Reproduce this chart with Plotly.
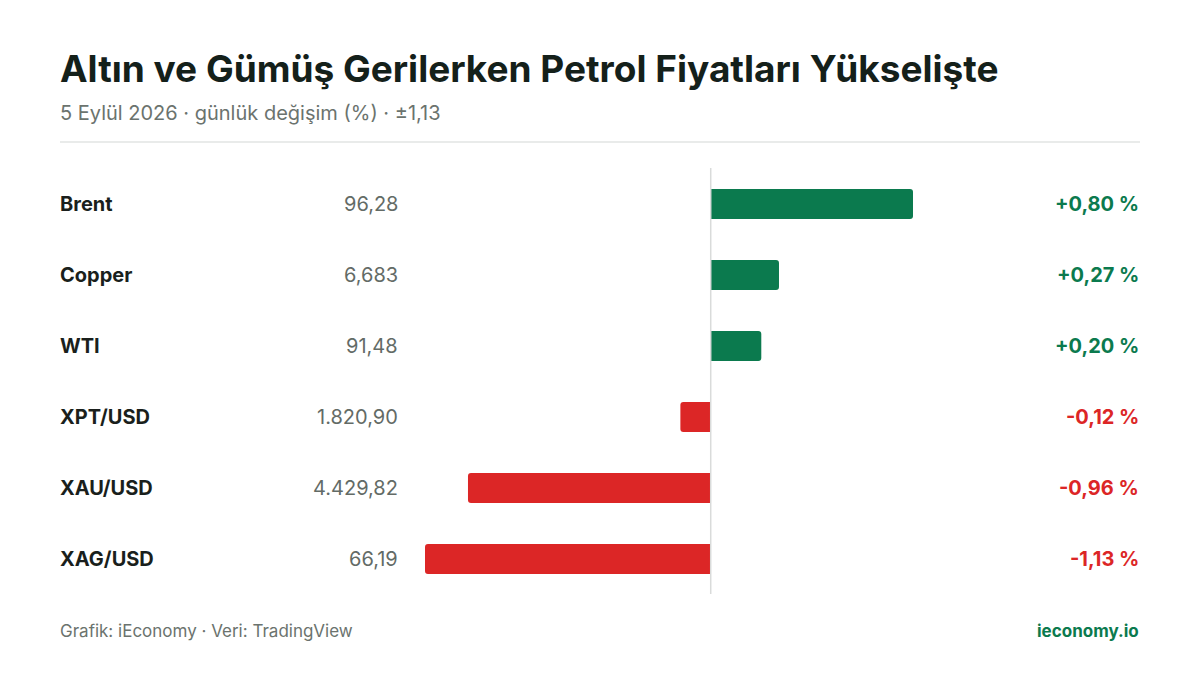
import plotly.graph_objects as go

names = ["Brent", "Copper", "WTI", "XPT/USD", "XAU/USD", "XAG/USD"]
prices = ["96,28", "6,683", "91,48", "1.820,90", "4.429,82", "66,19"]
changes = [0.80, 0.27, 0.20, -0.12, -0.96, -1.13]
change_labels = ["+0,80 %", "+0,27 %", "+0,20 %", "-0,12 %", "-0,96 %", "-1,13 %"]

GREEN = "#0b7a4e"
RED = "#dc2626"
W, H = 1200, 675
OFF = 8  # page body margin


def px(x):
    return (x - OFF) / W


def py(y):
    return 1 - (y - OFF) / H


colors = [GREEN if c >= 0 else RED for c in changes]

fig = go.Figure(go.Bar(
    x=changes, y=names, orientation="h",
    marker=dict(color=colors, line=dict(width=0)),
    width=0.42, hoverinfo="skip",
))

ann = []
for n, p, c, lab, col in zip(names, prices, changes, change_labels, colors):
    ann.append(dict(x=px(58), xref="paper", y=n, yref="y", text="<b>" + n + "</b>",
                    xanchor="left", showarrow=False, font=dict(size=20, color="#1a1f1c")))
    ann.append(dict(x=px(400), xref="paper", y=n, yref="y", text=p,
                    xanchor="right", showarrow=False, font=dict(size=20, color="#636b66")))
    ann.append(dict(x=px(1141), xref="paper", y=n, yref="y", text="<b>" + lab + "</b>",
                    xanchor="right", showarrow=False, font=dict(size=20, color=col)))

ann += [
    dict(x=px(58), y=py(68), xref="paper", yref="paper", xanchor="left", yanchor="middle",
         text="<b>Altın ve Gümüş Gerilerken Petrol Fiyatları Yükselişte</b>",
         showarrow=False, font=dict(size=37, color="#14201a")),
    dict(x=px(58), y=py(113), xref="paper", yref="paper", xanchor="left", yanchor="middle",
         text="5 Eylül 2026 · günlük değişim (%) · ±1,13",
         showarrow=False, font=dict(size=20, color="#6b736e")),
    dict(x=px(58), y=py(631), xref="paper", yref="paper", xanchor="left", yanchor="middle",
         text="Grafik: iEconomy · Veri: TradingView",
         showarrow=False, font=dict(size=17, color="#6b736e")),
    dict(x=px(1141), y=py(631), xref="paper", yref="paper", xanchor="right", yanchor="middle",
         text="<b>ieconomy.io</b>",
         showarrow=False, font=dict(size=17, color=GREEN)),
]

fig.update_layout(
    width=W, height=H, margin=dict(l=0, r=0, t=0, b=0),
    paper_bgcolor="white", plot_bgcolor="white",
    font=dict(family="Inter"),
    barcornerradius=3, showlegend=False,
    annotations=ann,
    shapes=[
        dict(type="line", xref="paper", yref="paper", x0=px(60), x1=px(1140),
             y0=py(142), y1=py(142), line=dict(color="#e2e4e3", width=1.5)),
        dict(type="line", xref="x", yref="paper", x0=0, x1=0,
             y0=py(594), y1=py(168), line=dict(color="#d9dbda", width=1.5)),
    ],
    xaxis=dict(domain=[px(425), px(913)], range=[-1.13, 0.80], visible=False, fixedrange=True),
    yaxis=dict(domain=[py(594.5), py(168.5)], range=[5.5, -0.5], visible=False,
               type="category", fixedrange=True),
)

fig.write_html("out.html")
